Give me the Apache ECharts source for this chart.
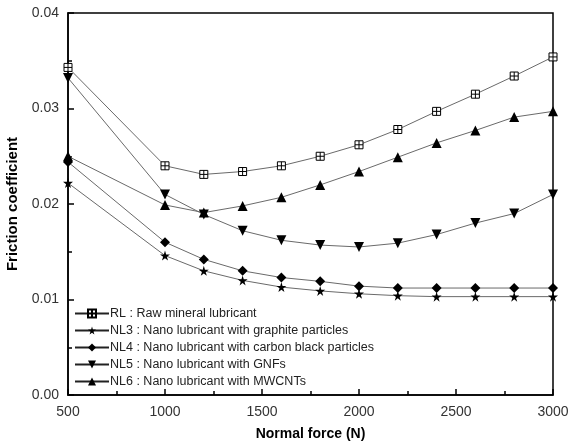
<!DOCTYPE html>
<html>
<head>
<meta charset="utf-8">
<script src="https://cdn.jsdelivr.net/npm/echarts@6/dist/echarts.min.js"></script>
<style>
html, body { margin: 0; padding: 0; background: #fff; }
#chart { width: 575px; height: 441px; }
</style>
</head>
<body>
<div id="chart"></div>
<script>
// normal force (N)
var forces = [500, 1000, 1200, 1400, 1600, 1800, 2000, 2200, 2400, 2600, 2800, 3000];

var rl  = [0.0343, 0.0240, 0.0231, 0.0234, 0.0240, 0.0250, 0.0262, 0.0278, 0.0297, 0.0315, 0.0334, 0.0354];
var nl3 = [0.0222, 0.0146, 0.0130, 0.0120, 0.0113, 0.0109, 0.0106, 0.0104, 0.0103, 0.0103, 0.0103, 0.0103];
var nl4 = [0.0244, 0.0160, 0.0142, 0.0130, 0.0123, 0.0119, 0.0114, 0.0112, 0.0112, 0.0112, 0.0112, 0.0112];
var nl5 = [0.0332, 0.0210, 0.0189, 0.0172, 0.0162, 0.0157, 0.0155, 0.0159, 0.0168, 0.0180, 0.0190, 0.0210];
var nl6 = [0.0250, 0.0199, 0.0191, 0.0198, 0.0207, 0.0220, 0.0234, 0.0249, 0.0264, 0.0277, 0.0291, 0.0297];

var names = [
   'RL : Raw mineral lubricant',
   'NL3 : Nano lubricant with graphite particles',
   'NL4 : Nano lubricant with carbon black particles',
   'NL5 : Nano lubricant with GNFs',
   'NL6 : Nano lubricant with MWCNTs'
];

var boxCross = 'path://M0,0H10V10H0ZM5,0V10M0,5H10';
var star = 'path://M50,0L61,35L98,35L68,57L79,91L50,70L21,91L32,57L2,35L39,35Z';

var toPairs = function(vals) {
   var out = [];
   for (var i = 0; i < forces.length; i++) {
      out.push([forces[i], vals[i]]);
   }
   return out;
};

var makeSeries = function(name, vals, symbol, size, rotate, hollow) {
   return {
      name: name,
      type: 'line',
      data: toPairs(vals),
      symbol: symbol,
      symbolSize: size,
      symbolRotate: rotate,
      showAllSymbol: true,
      lineStyle: { color: '#6a6a6a', width: 1 },
      itemStyle: hollow ? { color: '#fff', borderColor: '#000', borderWidth: 1 } : { color: '#000' },
      emphasis: { disabled: true },
      animation: false
   };
};

var axisFont = { fontFamily: 'Liberation Sans', fontSize: 14, color: '#333' };

var chart = echarts.init(document.getElementById('chart'));
chart.setOption({
   backgroundColor: '#fff',
   grid: {
      left: 68, right: 22, top: 13, bottom: 46,
      outerBoundsMode: 'none',
      show: true, borderColor: '#000', borderWidth: 1.5
   },
   legend: {
      left: 69, top: 302,
      orient: 'vertical',
      itemWidth: 34, itemHeight: 10, itemGap: 4,
      data: names,
      lineStyle: { color: '#222' },
      textStyle: { fontFamily: 'Liberation Sans', fontSize: 12.5, lineHeight: 12, color: '#222', padding: [0, 0, 0, -4] }
   },
   xAxis: {
      type: 'value',
      min: 500, max: 3000, interval: 500,
      name: 'Normal force (N)',
      nameLocation: 'middle',
      nameGap: 32,
      nameTextStyle: { fontFamily: 'Liberation Sans', fontSize: 14, fontWeight: 'bold', color: '#000' },
      axisLine: { lineStyle: { color: '#000', width: 1.5 } },
      axisTick: { inside: true, length: 6, lineStyle: { color: '#000', width: 1.5 } },
      minorTick: { show: true, splitNumber: 2, length: 4, lineStyle: { color: '#000', width: 1.5 } },
      axisLabel: Object.assign({ margin: 10, formatter: function(v) { return String(v); } }, axisFont),
      splitLine: { show: false }
   },
   yAxis: {
      type: 'value',
      min: 0, max: 0.04, interval: 0.01,
      name: 'Friction coefficient',
      nameLocation: 'middle',
      nameGap: 38,
      nameTextStyle: { fontFamily: 'Liberation Sans', fontSize: 15, fontWeight: 'bold', color: '#000' },
      axisLine: { show: true, lineStyle: { color: '#000', width: 1.5 } },
      axisTick: { show: true, inside: true, length: 6, lineStyle: { color: '#000', width: 1.5 } },
      minorTick: { show: true, splitNumber: 2, length: 4, lineStyle: { color: '#000', width: 1.5 } },
      axisLabel: Object.assign({ margin: 9, formatter: function(v) { return v.toFixed(2); } }, axisFont),
      splitLine: { show: false }
   },
   series: [
      makeSeries(names[0], rl, boxCross, 8, 0, true),
      makeSeries(names[1], nl3, star, 10, 0, false),
      makeSeries(names[2], nl4, 'diamond', 10, 0, false),
      makeSeries(names[3], nl5, 'triangle', 10, 180, false),
      makeSeries(names[4], nl6, 'triangle', 10, 0, false)
   ]
});
</script>
</body>
</html>
